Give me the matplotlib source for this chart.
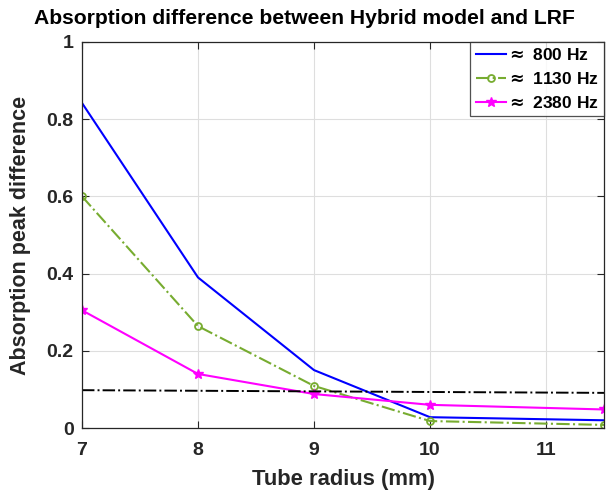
import matplotlib
matplotlib.use("Agg")
import matplotlib.pyplot as plt

plt.rcParams['font.family'] = ['Liberation Sans', 'DejaVu Sans']
plt.rcParams['font.weight'] = 'bold'

radius = [7, 8, 9, 10, 11.5]
hz800 = [0.842, 0.39, 0.15, 0.028, 0.02]
hz1130 = [0.60, 0.264, 0.109, 0.018, 0.008]
hz2380 = [0.305, 0.14, 0.088, 0.06, 0.048]
thresh_x = [7, 11.5]
thresh_y = [0.098, 0.091]
labels = [r'$\approx$ 800 Hz', r'$\approx$ 1130 Hz', r'$\approx$ 2380 Hz']

fig = plt.figure(figsize=(6.08, 4.9), dpi=100)
ax = fig.add_axes([82/608, (490-428)/490, (604-82)/608, (428-42)/490])

ax.plot(radius, hz800, color='#0000ff', lw=1.5, label=labels[0])
ax.plot(radius, hz1130, color='#77ac30', lw=1.5, ls='-.', marker='o', ms=5,
        mfc='none', mew=1.3, label=labels[1])
ax.plot(radius, hz2380, color='#ff00ff', lw=1.5, marker='*', ms=7.5, label=labels[2])
ax.plot(thresh_x, thresh_y, color='black', lw=1.4, ls='-.')

ax.set_xlim(7, 11.5)
ax.set_ylim(0, 1)
ax.set_xticks([7, 8, 9, 10, 11])
ax.set_yticks([0, 0.2, 0.4, 0.6, 0.8, 1])
ax.set_yticklabels(['0', '0.2', '0.4', '0.6', '0.8', '1'])
ax.grid(True, color='#dedede', lw=0.8)
ax.set_axisbelow(True)
ax.tick_params(direction='in', top=True, right=True, labelsize=14, length=5,
               color='#262626')
ax.tick_params(axis='x', pad=10)
ax.tick_params(axis='y', pad=6)
for lab in ax.get_xticklabels() + ax.get_yticklabels():
    lab.set_fontweight('bold')
    lab.set_color('#262626')
for s in ax.spines.values():
    s.set_color('#262626')
    s.set_linewidth(0.9)

ax.set_xlabel('Tube radius (mm)', fontsize=15.8, fontweight='bold', color='#262626',
              labelpad=7)
ax.set_ylabel('Absorption peak difference', fontsize=15.5, fontweight='bold',
              color='#262626', labelpad=11)
fig.text(0.5, 1 - 18/490, 'Absorption difference between Hybrid model and LRF',
         fontsize=15.2, fontweight='bold', ha='center', va='center')

leg = ax.legend(loc='upper right', fontsize=12.5, frameon=True, fancybox=False,
                borderpad=0.3, handlelength=1.75, handletextpad=0.0, labelspacing=0.45,
                borderaxespad=0.0)
leg.get_frame().set_edgecolor('#262626')
leg.get_frame().set_linewidth(0.9)
for t in leg.get_texts():
    t.set_fontweight('bold')

fig.savefig('out.png', dpi=100)
